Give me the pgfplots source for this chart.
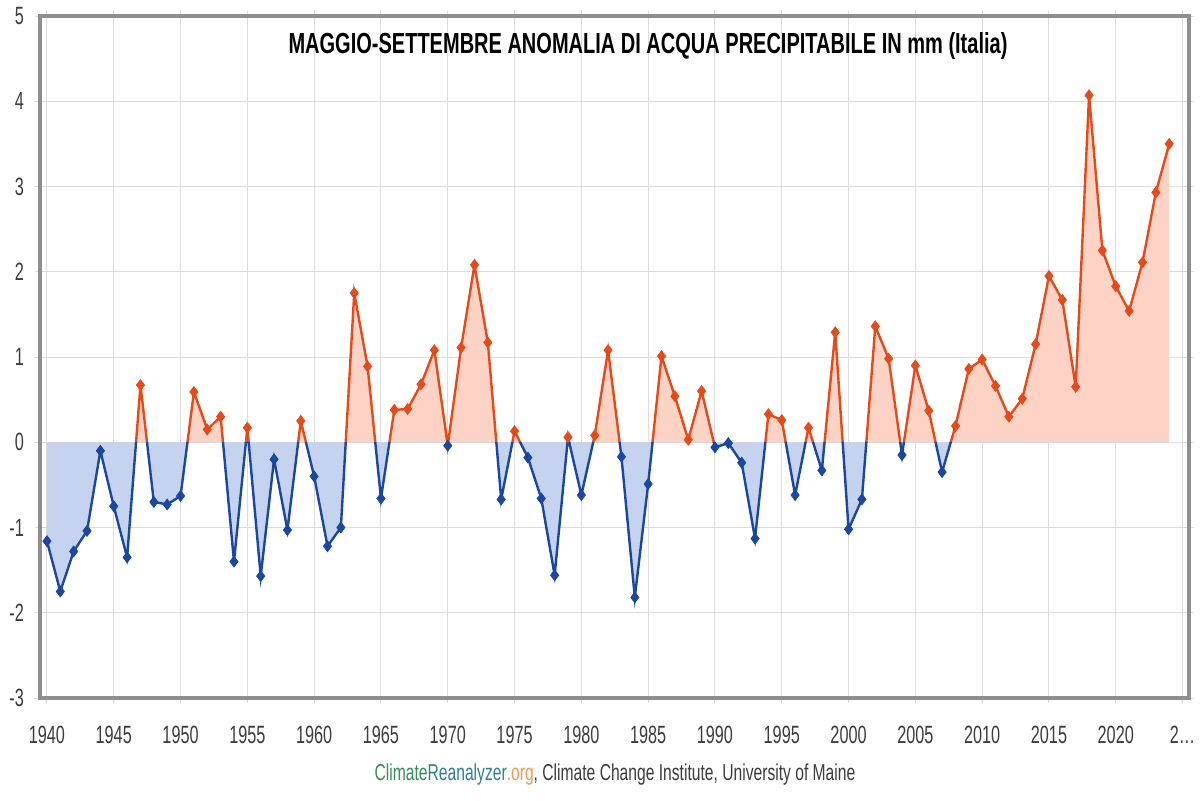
\documentclass[border=0pt]{standalone}
\usepackage{pgfplots}
\pgfplotsset{compat=1.18}
\usepackage{pgfplotstable}
\usepackage{fontspec}
\setmainfont{Liberation Sans}[FakeStretch=0.65]
\newfontfamily\titlefont{Liberation Sans}[FakeStretch=0.69]
\newfontfamily\creditfont{Liberation Sans}[FakeStretch=0.68]
\definecolor{lineO}{HTML}{E64A19}
\definecolor{lineB}{HTML}{1A47A0}
\definecolor{fillO}{HTML}{FCD3C5}
\definecolor{fillB}{HTML}{C6D3EE}
\definecolor{gridc}{HTML}{DCDCDC}
\definecolor{framec}{HTML}{8E8E8E}
\definecolor{txt}{HTML}{3C3C3C}
\definecolor{crG}{HTML}{3C8A5C}
\definecolor{crT}{HTML}{2F7D97}
\definecolor{crO}{HTML}{EE9A55}

\pgfplotstableread{
year v
1940 -1.16
1941 -1.75
1942 -1.28
1943 -1.04
1944 -0.10
1945 -0.75
1946 -1.35
1947 0.67
1948 -0.70
1949 -0.73
1950 -0.63
1951 0.59
1952 0.15
1953 0.30
1954 -1.40
1955 0.17
1956 -1.57
1957 -0.20
1958 -1.03
1959 0.25
1960 -0.40
1961 -1.22
1962 -1.00
1963 1.75
1964 0.89
1965 -0.66
1966 0.38
1967 0.39
1968 0.68
1969 1.08
1970 -0.04
1971 1.11
1972 2.08
1973 1.17
1974 -0.67
1975 0.13
1976 -0.18
1977 -0.66
1978 -1.56
1979 0.06
1980 -0.62
1981 0.08
1982 1.08
1983 -0.17
1984 -1.82
1985 -0.49
1986 1.01
1987 0.54
1988 0.03
1989 0.60
1990 -0.06
1991 -0.01
1992 -0.24
1993 -1.13
1994 0.33
1995 0.26
1996 -0.62
1997 0.17
1998 -0.33
1999 1.29
2000 -1.02
2001 -0.67
2002 1.36
2003 0.98
2004 -0.15
2005 0.90
2006 0.37
2007 -0.35
2008 0.19
2009 0.86
2010 0.97
2011 0.66
2012 0.30
2013 0.51
2014 1.15
2015 1.95
2016 1.67
2017 0.65
2018 4.07
2019 2.25
2020 1.83
2021 1.54
2022 2.11
2023 2.93
2024 3.50
}\anomaly

\begin{document}
\begin{tikzpicture}
\useasboundingbox (0,0) rectangle (600pt,400pt);
\begin{axis}[
  name=ax,
  at={(20pt,51pt)}, anchor=south west,
  scale only axis, width=574.5pt, height=341pt,
  xmin=1939.48, xmax=2025.48, ymin=-3, ymax=5,
  xtick={1940,1945,...,2025},
  xticklabels={1940,1945,1950,1955,1960,1965,1970,1975,1980,1985,1990,1995,2000,2005,2010,2015,2020,2\ldots},
  ytick={-3,-2,...,5},
  /pgf/number format/assume math mode=true,
  grid=major,
  major grid style={draw=gridc, line width=0.5pt},
  axis line style={draw=none},
  tick style={draw=gridc, line width=0.5pt},
  tick align=outside, major tick length=2.5pt,
  xticklabel style={font=\fontsize{12.5}{14}\selectfont, text=txt, yshift=-8pt},
  yticklabel style={font=\fontsize{12.5}{14}\selectfont, text=txt, xshift=-2pt},
  clip=false,
]
\begin{scope}
\clip (axis cs:1939,0) rectangle (axis cs:2026,6);
\addplot[draw=none, fill=fillO] table[x=year, y=v] {\anomaly} \closedcycle;
\end{scope}
\begin{scope}
\clip (axis cs:1939,-4) rectangle (axis cs:2026,0);
\addplot[draw=none, fill=fillB] table[x=year, y=v] {\anomaly} \closedcycle;
\end{scope}
\begin{scope}
\clip (axis cs:1939,0) rectangle (axis cs:2026,6);
\addplot[lineO, line width=1.2pt, no marks] table[x=year, y=v] {\anomaly};
\end{scope}
\begin{scope}
\clip (axis cs:1939,-4) rectangle (axis cs:2026,0);
\addplot[lineB, line width=1.2pt, no marks] table[x=year, y=v] {\anomaly};
\end{scope}
\addplot[only marks, mark=diamond*, mark size=2.7pt, color=lineO, restrict y to domain=0:10] table[x=year, y=v] {\anomaly};
\addplot[only marks, mark=diamond*, mark size=2.7pt, color=lineB, restrict y to domain=-10:-0.001] table[x=year, y=v] {\anomaly};
\end{axis}
\draw[framec, line width=1.6pt] (ax.south west) rectangle (ax.north east);
\node[font=\titlefont\fontsize{14.5}{16}\bfseries, text=black] at (324pt,377pt) {MAGGIO-SETTEMBRE ANOMALIA DI ACQUA PRECIPITABILE IN mm (Italia)};
\node[font=\creditfont\fontsize{11.5}{13}\selectfont, text=txt] at (307.5pt,12.5pt) {\textcolor{crG}{Climate}\textcolor{crT}{Reanalyzer}\textcolor{crO}{.org}, Climate Change Institute, University of Maine};
\end{tikzpicture}
\end{document}
